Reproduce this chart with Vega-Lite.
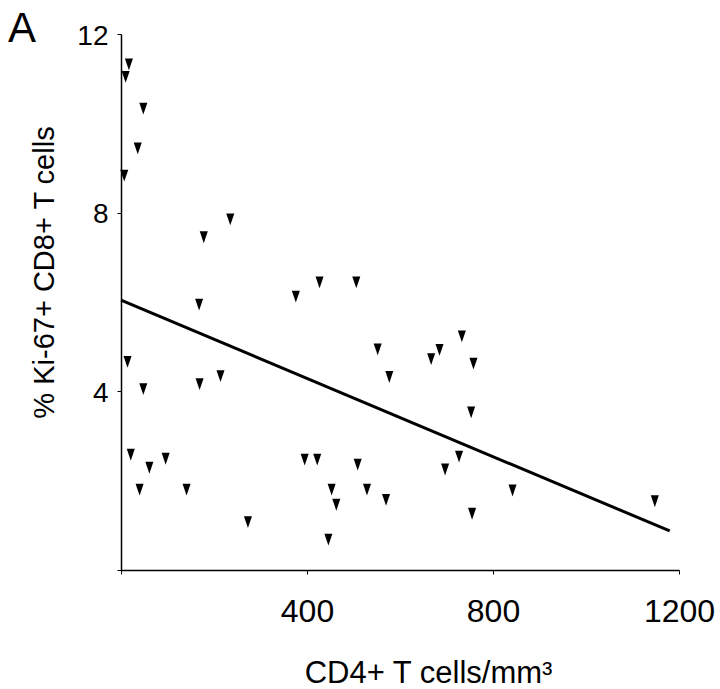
{
  "$schema": "https://vega.github.io/schema/vega-lite/v6.json",
  "width": 558,
  "height": 536,
  "autosize": "none",
  "padding": {"left": 121, "top": 34, "right": 41, "bottom": 119},
  "background": "white",
  "title": {
    "text": "A",
    "anchor": "start",
    "frame": "group",
    "fontSize": 42,
    "font": "Liberation Sans",
    "fontWeight": "normal",
    "color": "black",
    "dx": -113,
    "dy": 62,
    "offset": 0,
    "baseline": "alphabetic"
  },
  "config": {"view": {"stroke": null}, "font": "Liberation Sans"},
  "datasets": {
    "points": [
      {"cd4": 17, "ki67": 11.32},
      {"cd4": 10, "ki67": 11.04},
      {"cd4": 48, "ki67": 10.33},
      {"cd4": 36, "ki67": 9.44},
      {"cd4": 7, "ki67": 8.83},
      {"cd4": 235, "ki67": 7.85},
      {"cd4": 178, "ki67": 7.45},
      {"cd4": 427, "ki67": 6.44},
      {"cd4": 506, "ki67": 6.44},
      {"cd4": 376, "ki67": 6.12},
      {"cd4": 168, "ki67": 5.94},
      {"cd4": 14, "ki67": 4.66},
      {"cd4": 214, "ki67": 4.34},
      {"cd4": 48, "ki67": 4.05},
      {"cd4": 169, "ki67": 4.16},
      {"cd4": 21, "ki67": 2.58},
      {"cd4": 40, "ki67": 1.8},
      {"cd4": 61, "ki67": 2.29},
      {"cd4": 96, "ki67": 2.49},
      {"cd4": 141, "ki67": 1.8},
      {"cd4": 273, "ki67": 1.07},
      {"cd4": 395, "ki67": 2.47},
      {"cd4": 422, "ki67": 2.47},
      {"cd4": 733, "ki67": 5.23},
      {"cd4": 552, "ki67": 4.94},
      {"cd4": 685, "ki67": 4.93},
      {"cd4": 667, "ki67": 4.72},
      {"cd4": 758, "ki67": 4.62},
      {"cd4": 577, "ki67": 4.32},
      {"cd4": 753, "ki67": 3.53},
      {"cd4": 509, "ki67": 2.36},
      {"cd4": 727, "ki67": 2.54},
      {"cd4": 697, "ki67": 2.25},
      {"cd4": 453, "ki67": 1.8},
      {"cd4": 529, "ki67": 1.8},
      {"cd4": 463, "ki67": 1.46},
      {"cd4": 570, "ki67": 1.57},
      {"cd4": 842, "ki67": 1.78},
      {"cd4": 755, "ki67": 1.26},
      {"cd4": 446, "ki67": 0.68},
      {"cd4": 1148, "ki67": 1.54}
    ],
    "fit": [
      {"cd4": 0, "ki67": 6.04},
      {"cd4": 1180, "ki67": 0.875}
    ]
  },
  "layer": [
    {
      "data": {"name": "points"},
      "mark": {"type": "point", "shape": "M-0.68,-1L0.68,-1L0,1Z", "filled": true, "color": "black", "size": 140, "opacity": 1},
      "encoding": {
        "x": {
          "field": "cd4",
          "type": "quantitative",
          "scale": {"domain": [0, 1200], "nice": false, "zero": false},
          "axis": {
            "values": [0, 400, 800, 1200],
            "format": "d",
            "labelExpr": "datum.value == 0 ? '' : datum.label",
            "grid": false,
            "domainColor": "black",
            "domainWidth": 1.5,
            "tickColor": "black",
            "tickSize": 4,
            "labelFontSize": 32,
            "labelFont": "Liberation Sans",
            "labelColor": "black",
            "labelPadding": 22,
            "labelFlush": false,
            "labelOverlap": false,
            "title": "CD4+ T cells/mm³",
            "titleFont": "Liberation Sans",
            "titleFontSize": 31,
            "titleFontWeight": "normal",
            "titleColor": "black",
            "titleX": 307,
            "titleY": 112,
            "titleAlign": "center",
            "titleBaseline": "alphabetic"
          }
        },
        "y": {
          "field": "ki67",
          "type": "quantitative",
          "scale": {"domain": [0, 12], "nice": false, "zero": false},
          "axis": {
            "values": [0, 4, 8, 12],
            "labelExpr": "datum.value == 0 ? '' : datum.label",
            "grid": false,
            "domainColor": "black",
            "domainWidth": 1.5,
            "tickColor": "black",
            "tickSize": 4,
            "labelFontSize": 28,
            "labelFont": "Liberation Sans",
            "labelColor": "black",
            "labelPadding": 9,
            "labelOffset": 2,
            "labelFlush": false,
            "labelOverlap": false,
            "title": "% Ki-67+ CD8+ T cells",
            "titleFont": "Liberation Sans",
            "titleFontSize": 29,
            "titleFontWeight": "normal",
            "titleColor": "black",
            "titleAngle": -90,
            "titleX": -68,
            "titleY": 238,
            "titleAlign": "center",
            "titleBaseline": "alphabetic"
          }
        }
      }
    },
    {
      "data": {"name": "fit"},
      "mark": {"type": "line", "color": "black", "strokeWidth": 3},
      "encoding": {
        "x": {"field": "cd4", "type": "quantitative"},
        "y": {"field": "ki67", "type": "quantitative"}
      }
    }
  ]
}
